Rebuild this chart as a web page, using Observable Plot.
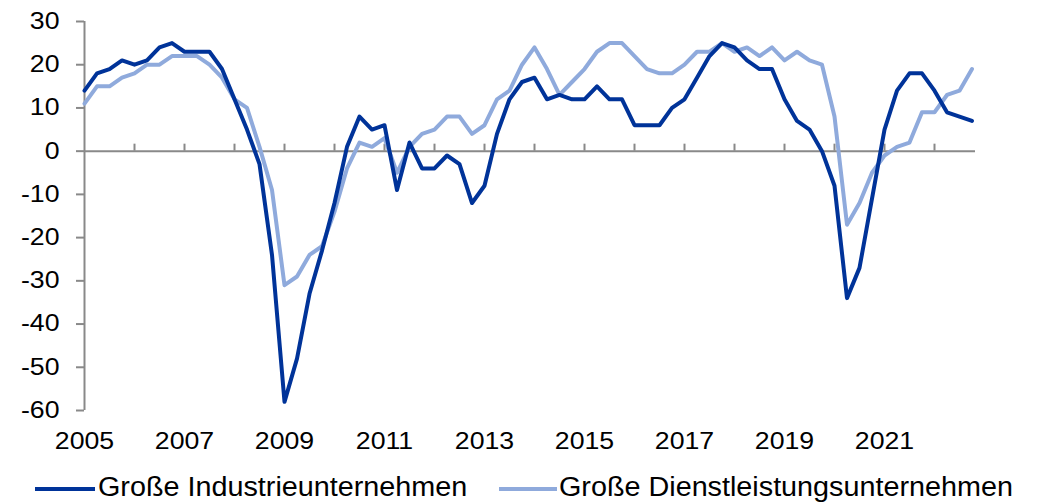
<!DOCTYPE html>
<html>
<head>
<meta charset="utf-8">
<script src="https://cdn.jsdelivr.net/npm/d3@7"></script>
<script src="https://cdn.jsdelivr.net/npm/@observablehq/plot@0.6"></script>
<style>
  html, body { margin: 0; padding: 0; background: #fff; }
  #wrap { position: relative; width: 1038px; height: 502px; overflow: hidden; }
  #chart svg text { font-family: "Liberation Sans", Arial, sans-serif; font-size: 23px; fill: #000; }
  g[aria-label="y-axis tick"], g[aria-label="y-axis"] .tick line { stroke: #898989; stroke-width: 2px; }
  #legend { position: relative; width: 1038px; height: 37px; font-family: "Liberation Sans", Arial, sans-serif; }
  .sw { position: absolute; height: 4px; top: 22px; }
  .lt { position: absolute; top: 9px; font-size: 27px; line-height: 1; white-space: nowrap; transform-origin: 0 0; transform: scaleX(1.065); color: #000; }
</style>
</head>
<body>
<div id="wrap">
  <div id="chart"></div>
  <div id="legend"></div>
</div>
<script>
// ---- data ----
const startYear = 2005; // first quarter: 2005 Q1, quarterly values
const seriesNames = ["Große Industrieunternehmen", "Große Dienstleistungsunternehmen"];
const seriesColors = ["#003399", "#8FAADC"];
const industrie = [14, 18, 19, 21, 20, 21, 24, 25, 23, 23, 23, 19, 12, 5, -3, -24,
  -58, -48, -33, -23, -12, 1, 8, 5, 6, -9, 2, -4, -4, -1, -3, -12,
  -8, 4, 12, 16, 17, 12, 13, 12, 12, 15, 12, 12, 6, 6, 6, 10,
  12, 17, 22, 25, 24, 21, 19, 19, 12, 7, 5, 0, -8, -34, -27, -11,
  5, 14, 18, 18, 14, 9, 8, 7];
const dienstleistung = [11, 15, 15, 17, 18, 20, 20, 22, 22, 22, 20, 17, 12, 10, 1, -9,
  -31, -29, -24, -22, -14, -4, 2, 1, 3, -5, 1, 4, 5, 8, 8, 4,
  6, 12, 14, 20, 24, 19, 13, 16, 19, 23, 25, 25, 22, 19, 18, 18,
  20, 23, 23, 25, 23, 24, 22, 24, 21, 23, 21, 20, 8, -17, -12, -5,
  -1, 1, 2, 9, 9, 13, 14, 19];
const yTicks = [30, 20, 10, 0, -10, -20, -30, -40, -50, -60];
const xTickLabels = [2005, 2007, 2009, 2011, 2013, 2015, 2017, 2019, 2021];
const yearTicks = [2006, 2007, 2008, 2009, 2010, 2011, 2012, 2013, 2014, 2015, 2016, 2017, 2018, 2019, 2020, 2021, 2022];

const toRows = (vals, name) => vals.map((v, i) => ({ t: startYear + i / 4, v, s: name }));
const rowsInd = toRows(industrie, seriesNames[0]);
const rowsDie = toRows(dienstleistung, seriesNames[1]);
const axisGray = "#898989";

const chart = Plot.plot({
  width: 1038,
  height: 465,
  marginLeft: 84,
  marginRight: 66.5,
  marginTop: 21,
  marginBottom: 55,
  x: { domain: [2005, 2022.75], ticks: xTickLabels, tickFormat: d => String(d), tickSize: 0, tickPadding: 22, label: null },
  y: { domain: [-60, 30], ticks: yTicks, tickFormat: d => String(d), tickSize: 8, tickPadding: 17, label: null },
  marks: [
    Plot.ruleX([2005], { stroke: axisGray, strokeWidth: 2 }),
    Plot.ruleY([0], { x1: 2005, x2: 2022.82, stroke: axisGray, strokeWidth: 2 }),
    Plot.ruleX(yearTicks, { x: d => d, y1: 0, y2: 0, insetTop: -7, stroke: axisGray, strokeWidth: 2 }),
    Plot.line(rowsDie, { x: "t", y: "v", stroke: seriesColors[1], strokeWidth: 4, strokeLinejoin: "round" }),
    Plot.line(rowsInd, { x: "t", y: "v", stroke: seriesColors[0], strokeWidth: 4, strokeLinejoin: "round" })
  ]
});
document.getElementById("chart").appendChild(chart);

// horizontally stretch axis labels to match the reference's wide lettering
const s = 1.16;
chart.querySelectorAll('g[aria-label^="x-axis"] text, g[aria-label^="y-axis"] text').forEach(t => {
  const tr = t.getAttribute("transform");
  if (tr) {
    t.setAttribute("transform", tr + ` scale(${s},1)`);
  } else {
    const x = +t.getAttribute("x") || 0;
    t.removeAttribute("x");
    t.setAttribute("transform", `translate(${x},0) scale(${s},1)`);
  }
});

// legend
const legend = document.getElementById("legend");
const items = [
  { name: seriesNames[0], color: seriesColors[0], swLeft: 35, swWidth: 60, textLeft: 98 },
  { name: seriesNames[1], color: seriesColors[1], swLeft: 499, swWidth: 58, textLeft: 559 }
];
items.forEach(it => {
  const sw = document.createElement("div");
  sw.className = "sw";
  sw.style.left = it.swLeft + "px";
  sw.style.width = it.swWidth + "px";
  sw.style.background = it.color;
  legend.appendChild(sw);
  const lt = document.createElement("div");
  lt.className = "lt";
  lt.style.left = it.textLeft + "px";
  lt.textContent = it.name;
  legend.appendChild(lt);
});
</script>
</body>
</html>
